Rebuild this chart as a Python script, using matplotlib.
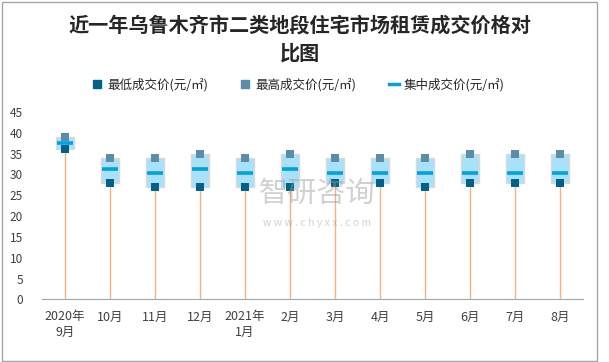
"""
Urumqi tier-2 district residential rental prices, last 12 months:
low / high / typical transaction price per month.
"""

import matplotlib
matplotlib.use("Agg")
import matplotlib.pyplot as plt
from matplotlib.lines import Line2D
from matplotlib.patches import Rectangle

plt.rcParams["font.family"] = ["Noto Sans CJK SC", "DejaVu Sans"]

MONTHS = ["2020年\n9月", "10月", "11月", "12月", "2021年\n1月", "2月",
          "3月", "4月", "5月", "6月", "7月", "8月"]
LOW    = [36, 28, 27, 27, 27, 27, 28, 28, 27, 28, 28, 28]
HIGH   = [39, 34, 34, 35, 34, 35, 34, 34, 34, 35, 35, 35]
MID    = [37.5, 31.2, 30.3, 31.2, 30.3, 31.2, 30.3, 30.3, 30.3, 30.3, 30.3, 30.3]

LOW_COLOR  = "#00628b"
HIGH_COLOR = "#5b8ca8"
MID_COLOR  = "#00a2e0"
BOX_COLOR  = "#a9e2f8"
STEM_COLOR = "#f4b183"
TEXT_COLOR = "#404040"

fig = plt.figure(figsize=(6.09, 3.62), dpi=100)
ax = fig.add_axes([0.0695, 0.173, 0.8875, 0.518])

x = range(len(MONTHS))
box_w = 0.4

for i in x:
    # stem from zero up to the low value
    ax.plot([i, i], [0, LOW[i]], color=STEM_COLOR, linewidth=1, zorder=1)
    # box spanning low..high
    ax.add_patch(Rectangle((i - box_w / 2, LOW[i]), box_w, HIGH[i] - LOW[i],
                           facecolor=BOX_COLOR, edgecolor="#d9d9d9",
                           linewidth=1, zorder=2))
    # typical price
    ax.plot([i - box_w / 2 + 0.02, i + box_w / 2 - 0.02], [MID[i], MID[i]],
            color=MID_COLOR, linewidth=2.6, solid_capstyle="butt", zorder=4)

ax.scatter(x, HIGH, marker="s", s=28, color=HIGH_COLOR, zorder=3, linewidths=0)
ax.scatter(x, LOW, marker="s", s=28, color=LOW_COLOR, zorder=3, linewidths=0)

ax.set_xlim(-0.5, len(MONTHS) - 0.5)
ax.set_ylim(0, 45)
ax.set_yticks(range(0, 46, 5))
ax.set_xticks(list(x))
ax.set_xticklabels(MONTHS)
ax.tick_params(axis="both", length=0, colors=TEXT_COLOR)
ax.tick_params(axis="x", pad=8, labelsize=9)
ax.tick_params(axis="y", pad=14, labelsize=8.5)

for side in ["top", "right", "left"]:
    ax.spines[side].set_visible(False)
ax.spines["bottom"].set_color("#a6a6a6")

# legend
handles = [
    Line2D([], [], marker="s", linestyle="none", markersize=5.5,
           color=LOW_COLOR, label="最低成交价(元/㎡)"),
    Line2D([], [], marker="s", linestyle="none", markersize=5.5,
           color=HIGH_COLOR, label="最高成交价(元/㎡)"),
    Line2D([], [], color=MID_COLOR, linewidth=2.5, label="集中成交价(元/㎡)"),
]
leg = fig.legend(handles=handles, loc="center", bbox_to_anchor=(0.49, 0.765),
                 ncol=3, frameon=False, fontsize=9, handlelength=0.8,
                 handletextpad=0.4, columnspacing=2.6)
for t in leg.get_texts():
    t.set_color("#262626")

fig.text(0.493, 0.93, "近一年乌鲁木齐市二类地段住宅市场租赁成交价格对",
         ha="center", va="center", fontsize=14.5, fontweight="bold",
         color="#262626")
fig.text(0.493, 0.854, "比图", ha="center", va="center", fontsize=14.5,
         fontweight="bold", color="#262626")

# faint watermark
fig.text(0.52, 0.465, "智研咨询", ha="center", va="center", fontsize=21,
         color="#9a9a9a", alpha=0.45, zorder=10)
fig.text(0.52, 0.385, "w w w . c h y x x . c o m", ha="center", va="center",
         fontsize=7.5, color="#9a9a9a", alpha=0.45, zorder=10)

# outer frame
fig.patches.append(Rectangle((0.003, 0.003), 0.978, 0.992,
                             transform=fig.transFigure, fill=False,
                             edgecolor="#a6a6a6", linewidth=1))

fig.savefig("out.png", dpi=100)
